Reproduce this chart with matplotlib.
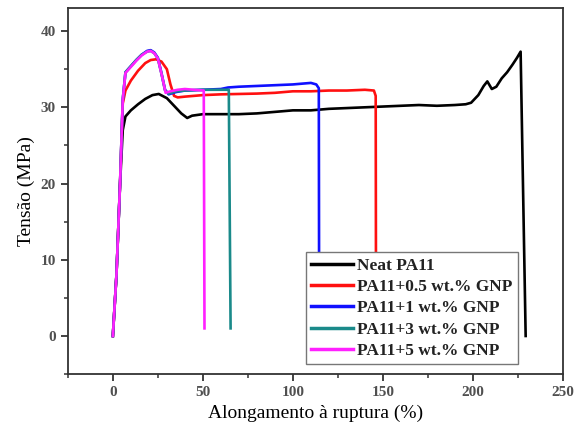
import numpy as np
import matplotlib.pyplot as plt

# strain (%) / stress (MPa) points
neat_x = [0, 2, 4, 5.5, 7, 10, 14, 18, 22, 25.5, 30, 34, 38, 41.3, 44, 50, 60, 70, 80,
          90, 100, 110, 120, 130, 140, 150, 160, 170, 180, 190, 196, 199, 203, 206,
          208, 210.5, 213, 216, 219, 222, 224.5, 226.5, 229.3]
neat_y = [0, 8, 20, 27, 28.8, 29.6, 30.4, 31.1, 31.6, 31.75, 31.2, 30.2, 29.2, 28.6,
          28.9, 29.1, 29.1, 29.1, 29.2, 29.4, 29.6, 29.6, 29.8, 29.9, 30.0, 30.1,
          30.2, 30.3, 30.2, 30.3, 30.4, 30.6, 31.6, 32.8, 33.4, 32.4, 32.7, 33.8,
          34.6, 35.6, 36.5, 37.3, 0]

gnp05_x = [0, 2, 4, 5.5, 7, 10, 14, 18, 21, 24, 27, 30, 32, 34, 36, 40, 50, 60, 70,
           80, 90, 100, 110, 120, 130, 140, 145, 146, 146.2]
gnp05_y = [0, 8, 20, 30.5, 32.2, 33.5, 34.8, 35.8, 36.2, 36.3, 36.0, 35.0, 33.0,
           31.5, 31.3, 31.4, 31.6, 31.7, 31.75, 31.8, 31.9, 32.1, 32.1, 32.2, 32.2,
           32.3, 32.2, 31.5, 0.5]

gnp1_x = [0, 2, 4, 5.5, 7, 10, 13, 16, 19, 21, 23, 25, 27, 29, 31, 35, 40, 50, 60,
          64, 70, 80, 90, 100, 105, 110, 113, 114.4, 114.6]
gnp1_y = [0, 8, 20, 31, 34.6, 35.4, 36.2, 36.9, 37.4, 37.5, 37.2, 36.5, 34.5, 32.3,
          31.7, 32.0, 32.2, 32.3, 32.4, 32.6, 32.7, 32.8, 32.9, 33.0, 33.1, 33.2,
          33.0, 32.5, 1]

gnp3_x = [0, 2, 4, 5.5, 7, 10, 13, 16, 19, 21, 23, 25, 27, 29, 31, 35, 40, 50, 60,
          64.4, 65.4]
gnp3_y = [0, 8, 20, 31, 34.6, 35.4, 36.2, 36.9, 37.3, 37.4, 37.1, 36.4, 34.4, 32.2,
          31.8, 32.1, 32.2, 32.3, 32.3, 32.3, 1]

gnp5_x = [0, 2, 4, 5.5, 7, 10, 13, 16, 19, 21, 23, 25, 27.4, 29.3, 32, 36, 40, 45,
          50.5, 50.9]
gnp5_y = [0, 8, 20, 31, 34.5, 35.3, 36.1, 36.8, 37.3, 37.4, 37.1, 36.4, 34.0, 31.9,
          32.1, 32.3, 32.4, 32.3, 32.2, 1]

labels = ["Neat PA11", "PA11+0.5 wt.% GNP", "PA11+1 wt.% GNP",
          "PA11+3 wt.% GNP", "PA11+5 wt.% GNP"]
colors = ["black", "#ff1010", "#1010ff", "#1a8a8a", "#ff20ff"]

plt.rcParams['font.family'] = ['Liberation Serif', 'DejaVu Serif']

fig = plt.figure(figsize=(5.75, 4.32), dpi=100)
ax = fig.add_axes([0.118, 0.134, 0.861, 0.847])

series = [(neat_x, neat_y), (gnp05_x, gnp05_y), (gnp1_x, gnp1_y),
          (gnp3_x, gnp3_y), (gnp5_x, gnp5_y)]
for (x, y), lab, c in zip(series, labels, colors):
    ax.plot(x, y, color=c, lw=1.9, label=lab, solid_joinstyle='round')

ax.set_xlim(-25, 250)
ax.set_ylim(-5, 43)
ax.set_xticks([0, 50, 100, 150, 200, 250])
ax.set_xticks([-25, 25, 75, 125, 175, 225], minor=True)
ax.set_yticks([0, 10, 20, 30, 40])
ax.set_yticks([-5, 5, 15, 25, 35], minor=True)
ax.tick_params(which='both', direction='out', color='#333333', labelcolor='#505050',
               labelsize=11, top=False, right=False)
ax.tick_params(which='major', length=5, width=1.3)
ax.tick_params(which='minor', length=3, width=1.1)
for t in ax.get_xticklabels() + ax.get_yticklabels():
    t.set_fontweight('bold')
for s in ax.spines.values():
    s.set_color('#333333')
    s.set_linewidth(1.3)

ax.set_xlabel("Alongamento à ruptura (%)", fontsize=14, labelpad=4)
ax.set_ylabel("Tensão (MPa)", fontsize=14, labelpad=4)

leg = ax.legend(loc='lower left', bbox_to_anchor=(0.481, 0.027),
                prop={'size': 12.5, 'weight': 'bold'},
                fancybox=False, edgecolor='#777777', framealpha=1, handlelength=2.4,
                borderpad=0.3, labelspacing=0.3, handletextpad=0.25,
                borderaxespad=0)
leg.get_frame().set_linewidth(1.0)
for line in leg.get_lines():
    line.set_linewidth(2.5)
for t in leg.get_texts():
    t.set_color('#222222')

fig.savefig("out.png", dpi=100)
